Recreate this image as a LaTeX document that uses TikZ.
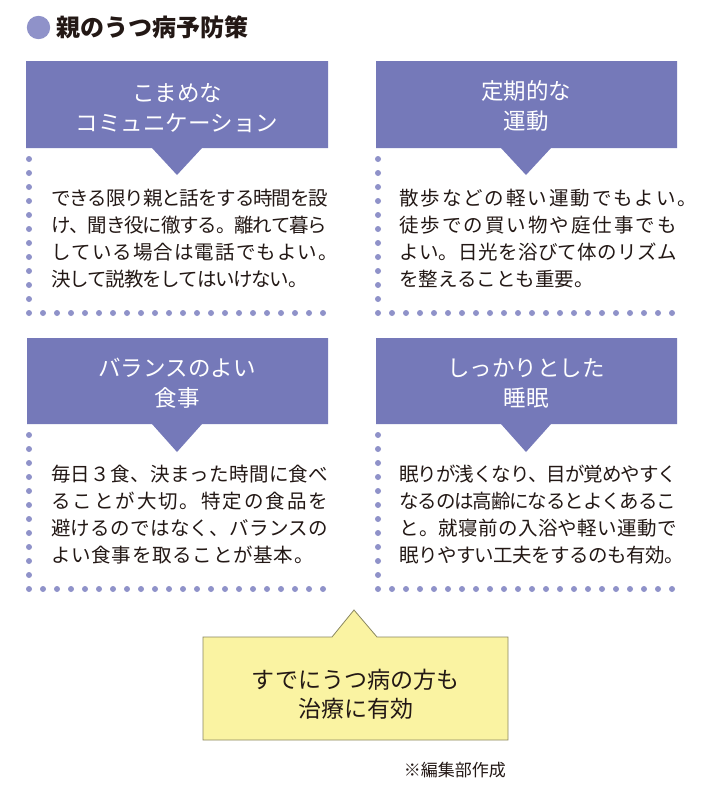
\documentclass[tikz,border=0pt]{standalone}
\usepackage{fontspec}
\setmainfont{Noto Sans CJK JP}
\definecolor{hdrc}{HTML}{7579B9}
\definecolor{dotc}{HTML}{8F92C9}
\definecolor{txt}{HTML}{231815}
\definecolor{yel}{HTML}{FAF3A2}
\definecolor{yelb}{HTML}{8A8760}
\makeatletter
\def\spreadline#1#2{\hbox to #1{\spreadline@i#2\relax}}
\def\spreadline@i#1#2{#1\ifx\relax#2\else\hskip 0pt plus 1fil minus 1fil\expandafter\spreadline@i\expandafter#2\fi}
\makeatother
\begin{document}
\begin{tikzpicture}[x=1pt,y=-1pt,
  hdrtext/.style={text=white, align=center, font=\fontsize{22.5}{30}\selectfont, inner sep=0pt},
  bodytext/.style={text=txt, align=left, anchor=west, font=\fontsize{19.5}{27}\selectfont, inner sep=0pt},
  dotline/.style={draw=dotc, line width=6pt, line cap=round, dash pattern=on 0pt off 14pt},
]
\useasboundingbox[fill=white] (0,0) rectangle (710,787);

% title
\fill[dotc] (38.5,27.5) circle (11.7);
\node[anchor=west, inner sep=0pt, text=txt, font=\fontsize{24}{27}\selectfont\bfseries] (title) at (56,27) {親のうつ病予防策};

% box 1
\fill[hdrc] (26,61) -- (328,61) -- (328,148) -- (202,148) -- (177,175) -- (152,148) -- (26,148) -- cycle;
\node[hdrtext] (h1) at (177,108) {こまめな\\コミュニケーション};
\draw[dotline] (29,159) -- (29,313) -- (326,313);
\node[bodytext] (b1) at (51,238.5) {\spreadline{277pt}{できる限り親と話をする時間を設}\\\spreadline{276pt}{け、聞き役に徹する。離れて暮ら}\\\spreadline{286.5pt}{している場合は電話でもよい。}\\\spreadline{256.5pt}{決して説教をしてはいけない。}};

% box 2
\fill[hdrc] (376,61) -- (677,61) -- (677,148) -- (551,148) -- (526,175) -- (501,148) -- (376,148) -- cycle;
\node[hdrtext] (h2) at (526,106) {定期的な\\運動};
\draw[dotline] (378,159) -- (378,313) -- (675,313);
\node[bodytext] (b2) at (399,238.5) {\spreadline{298pt}{散歩などの軽い運動でもよい。}\\\spreadline{277.5pt}{徒歩での買い物や庭仕事でも}\\\spreadline{277.5pt}{よい。日光を浴びて体のリズム}\\\spreadline{194.5pt}{を整えることも重要。}};

% box 3
\fill[hdrc] (27,338) -- (328,338) -- (328,424) -- (202,424) -- (177,452) -- (152,424) -- (27,424) -- cycle;
\node[hdrtext] (h3) at (177,383) {バランスのよい\\食事};
\draw[dotline] (29,435) -- (29,589) -- (326,589);
\node[bodytext] (b3) at (51,515) {\spreadline{277pt}{毎日３食、決まった時間に食べ}\\\spreadline{277pt}{ることが大切。特定の食品を}\\\spreadline{277pt}{避けるのではなく、バランスの}\\\spreadline{262.5pt}{よい食事を取ることが基本。}};

% box 4
\fill[hdrc] (376,338) -- (677,338) -- (677,424) -- (551,424) -- (526,452) -- (501,424) -- (376,424) -- cycle;
\node[hdrtext] (h4) at (526,383) {しっかりとした\\睡眠};
\draw[dotline] (378,435) -- (378,589) -- (675,589);
\node[bodytext] (b4) at (399,515) {\spreadline{278pt}{眠りが浅くなり、目が覚めやすく}\\\spreadline{277pt}{なるのは高齢になるとよくあるこ}\\\spreadline{277.5pt}{と。就寝前の入浴や軽い運動で}\\\spreadline{284.5pt}{眠りやすい工夫をするのも有効。}};

% yellow callout
\filldraw[fill=yel, draw=yelb, line width=0.8pt] (203,637) -- (332,637) -- (354,610) -- (377,637) -- (508,637) -- (508,740) -- (203,740) -- cycle;
\node[text=txt, align=center, inner sep=0pt, font=\fontsize{23}{29}\selectfont] (y) at (355.5,694) {すでにうつ病の方も\\治療に有効};

\node[anchor=east, inner sep=0pt, text=txt, font=\fontsize{17}{19}\selectfont] (note) at (506,770) {※編集部作成};
\end{tikzpicture}
\end{document}
